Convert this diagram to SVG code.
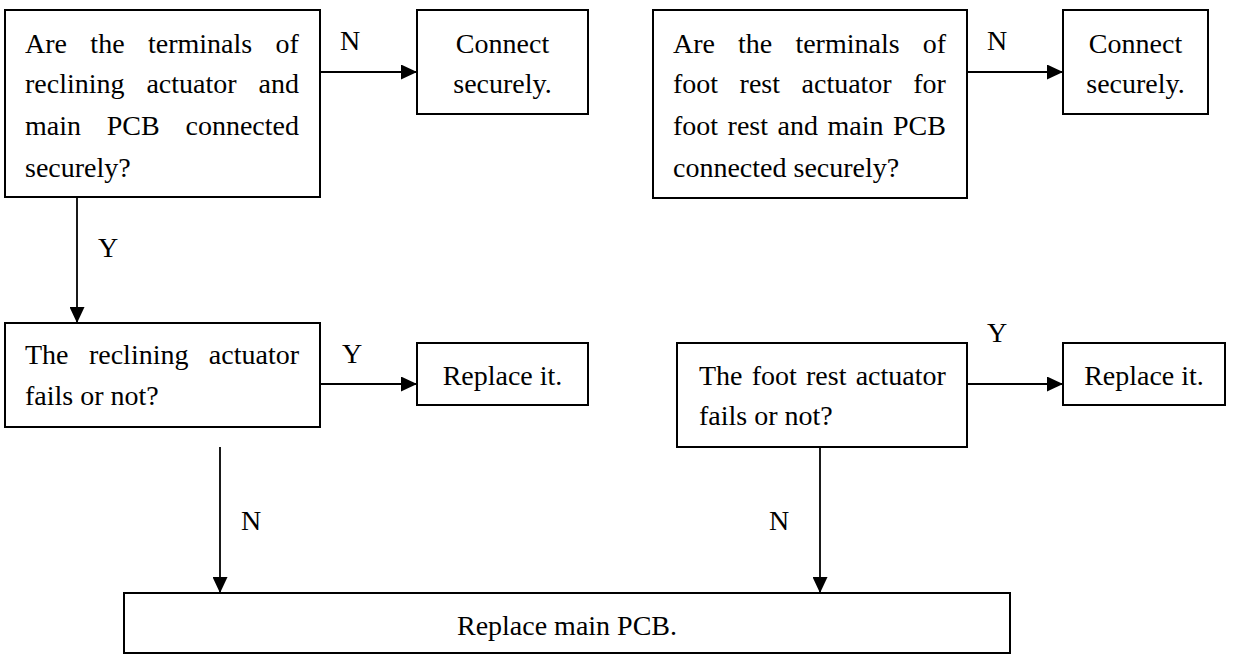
<svg xmlns="http://www.w3.org/2000/svg" width="1233" height="655" viewBox="0 0 1233 655">
<style>
text{font-family:"Liberation Serif","Times New Roman",serif;font-size:28px;fill:#000}
.box{fill:#fff;stroke:#000;stroke-width:2}
.c{text-anchor:middle}
.conn line{stroke:#000;stroke-width:1.8}
</style>
<defs>
<marker id="ah" markerUnits="userSpaceOnUse" markerWidth="16" markerHeight="15" refX="16" refY="7.5" orient="auto">
<path d="M0,0 L16,7.5 L0,15 z" fill="#000"/>
</marker>
</defs>
<rect width="1233" height="655" fill="#fff"/>
<g id="q1">
<rect class="box" x="5" y="10" width="315" height="187"/>
<text x="25" y="53" word-spacing="16.4">Are the terminals of</text>
<text x="25" y="93" word-spacing="14.9">reclining actuator and</text>
<text x="25" y="135" word-spacing="18.8">main PCB connected</text>
<text x="25" y="177">securely?</text>
</g>
<g id="c1">
<rect class="box" x="417" y="10" width="171" height="104"/>
<text class="c" x="502.5" y="53">Connect</text>
<text class="c" x="502.5" y="93">securely.</text>
</g>
<g id="q2">
<rect class="box" x="653" y="10" width="314" height="188"/>
<text x="673" y="53" word-spacing="16.1">Are the terminals of</text>
<text x="673" y="93" word-spacing="14.5">foot rest actuator for</text>
<text x="673" y="135" word-spacing="2.5">foot rest and main PCB</text>
<text x="673" y="177">connected securely?</text>
</g>
<g id="c2">
<rect class="box" x="1063" y="10" width="145" height="104"/>
<text class="c" x="1135.5" y="53">Connect</text>
<text class="c" x="1135.5" y="93">securely.</text>
</g>
<g id="q3">
<rect class="box" x="5" y="323" width="315" height="104"/>
<text x="25" y="364" word-spacing="13.4">The reclining actuator</text>
<text x="25" y="405">fails or not?</text>
</g>
<g id="r1">
<rect class="box" x="417" y="343" width="171" height="62"/>
<text class="c" x="502.5" y="385">Replace it.</text>
</g>
<g id="q4">
<rect class="box" x="677" y="343" width="290" height="104"/>
<text x="699" y="385" word-spacing="2.2">The foot rest actuator</text>
<text x="699" y="425">fails or not?</text>
</g>
<g id="r2">
<rect class="box" x="1063" y="343" width="162" height="62"/>
<text class="c" x="1144" y="385">Replace it.</text>
</g>
<g id="pcb">
<rect class="box" x="124" y="593" width="886" height="60"/>
<text class="c" x="567" y="635">Replace main PCB.</text>
</g>
<g id="connectors" class="conn">
<line x1="320" y1="72" x2="417" y2="72" marker-end="url(#ah)"/>
<line x1="967" y1="72" x2="1063" y2="72" marker-end="url(#ah)"/>
<line x1="77" y1="197" x2="77" y2="323" marker-end="url(#ah)"/>
<line x1="320" y1="384" x2="417" y2="384" marker-end="url(#ah)"/>
<line x1="967" y1="384" x2="1063" y2="384" marker-end="url(#ah)"/>
<line x1="220" y1="447" x2="220" y2="593" marker-end="url(#ah)"/>
<line x1="820" y1="447" x2="820" y2="593" marker-end="url(#ah)"/>
<text x="340" y="50">N</text>
<text x="987" y="50">N</text>
<text x="98" y="257">Y</text>
<text x="342" y="363">Y</text>
<text x="987" y="342">Y</text>
<text x="241" y="530">N</text>
<text x="769" y="530">N</text>
</g>
</svg>
